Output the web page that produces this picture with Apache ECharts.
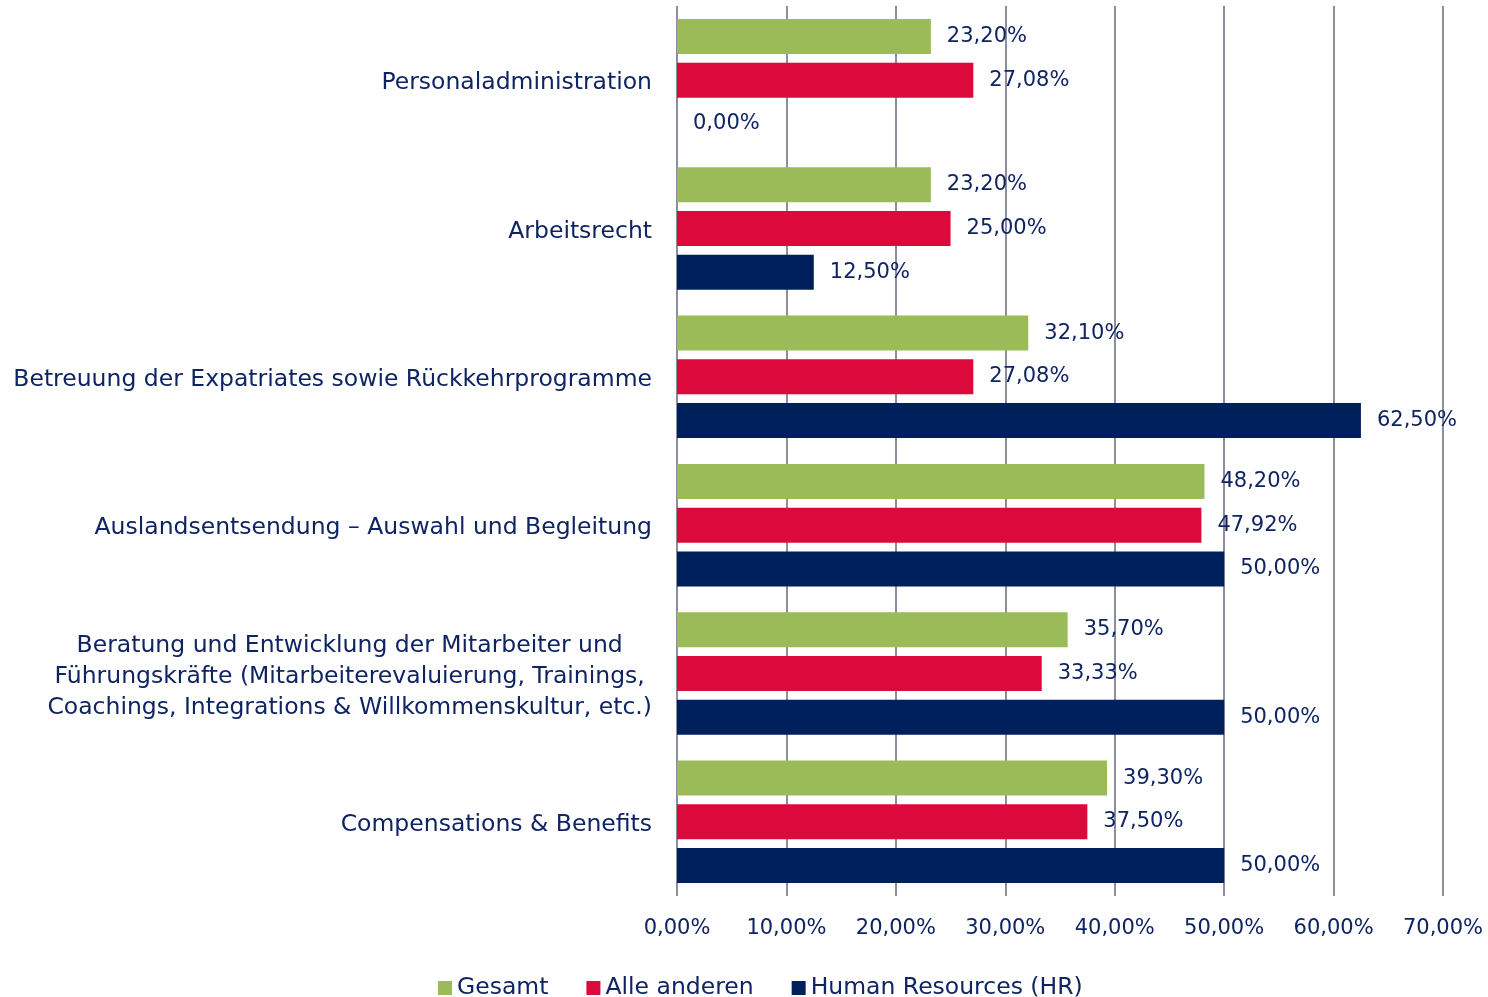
<!DOCTYPE html>
<html>
<head>
<meta charset="utf-8">
<script src="https://cdn.jsdelivr.net/npm/echarts@6/dist/echarts.min.js"></script>
<style>
  html, body { margin: 0; padding: 0; background: #fff; }
  #chart { width: 1488px; height: 997px; }
</style>
</head>
<body>
<div id="chart"></div>
<script>
const categories = [
    "Personaladministration",
    "Arbeitsrecht",
    "Betreuung der Expatriates sowie Rückkehrprogramme",
    "Auslandsentsendung – Auswahl und Begleitung",
    "Beratung und Entwicklung der Mitarbeiter und\nFührungskräfte (Mitarbeiterevaluierung, Trainings,\nCoachings, Integrations & Willkommenskultur, etc.)",
    "Compensations & Benefits"
];
const gesamt = [23.20, 23.20, 32.10, 48.20, 35.70, 39.30];
const alleAnderen = [27.08, 25.00, 27.08, 47.92, 33.33, 37.50];
const hr = [0.00, 12.50, 62.50, 50.00, 50.00, 50.00];
const seriesNames = ["Gesamt", "Alle anderen", "Human Resources (HR)"];
const colors = ["#9bbb59", "#dc0a3c", "#00205b"];

const textColor = "#0f2462";
const font = "'DejaVu Sans', sans-serif";
const fmt = v => v.toFixed(2).replace(".", ",") + "%";

const chart = echarts.init(document.getElementById("chart"));

const makeSeries = (name, data, color) => ({
    name: name,
    type: "bar",
    data: data,
    barWidth: 35,
    barGap: "25%",
    itemStyle: { color: color },
    label: {
        show: true,
        position: "right",
        distance: 16,
        color: textColor,
        fontFamily: font,
        fontSize: 21,
        formatter: p => fmt(p.value)
    }
});

chart.setOption({
    animation: false,
    color: colors,
    grid: { left: 677, right: 45, top: 6, bottom: 101 },
    xAxis: {
        type: "value",
        min: 0,
        max: 70,
        interval: 10,
        axisLine: { show: false },
        axisTick: { show: false },
        splitLine: { lineStyle: { color: "#8c8ea0", width: 2 } },
        axisLabel: {
            margin: 22,
            color: textColor,
            fontFamily: font,
            fontSize: 21,
            formatter: v => fmt(v)
        }
    },
    yAxis: {
        type: "category",
        inverse: true,
        data: categories,
        axisLine: { show: false },
        axisTick: { show: false },
        axisLabel: {
            margin: 25,
            color: textColor,
            fontFamily: font,
            fontSize: 23.5,
            lineHeight: 31,
            formatter: v => v.split("\n").map(l => "{c|" + l + "}").join("\n"),
            rich: {
                c: { align: "center", color: textColor, fontFamily: font, fontSize: 23.5, lineHeight: 31, padding: [6, 0, 0, 0] }
            }
        }
    },
    legend: {
        top: 971,
        left: 433,
        itemWidth: 14,
        itemHeight: 14,
        itemGap: 38,
        icon: "rect",
        textStyle: { color: textColor, fontFamily: font, fontSize: 23.5 },
        data: seriesNames
    },
    series: [
        makeSeries(seriesNames[0], gesamt, colors[0]),
        makeSeries(seriesNames[1], alleAnderen, colors[1]),
        makeSeries(seriesNames[2], hr, colors[2])
    ]
});
</script>
</body>
</html>
